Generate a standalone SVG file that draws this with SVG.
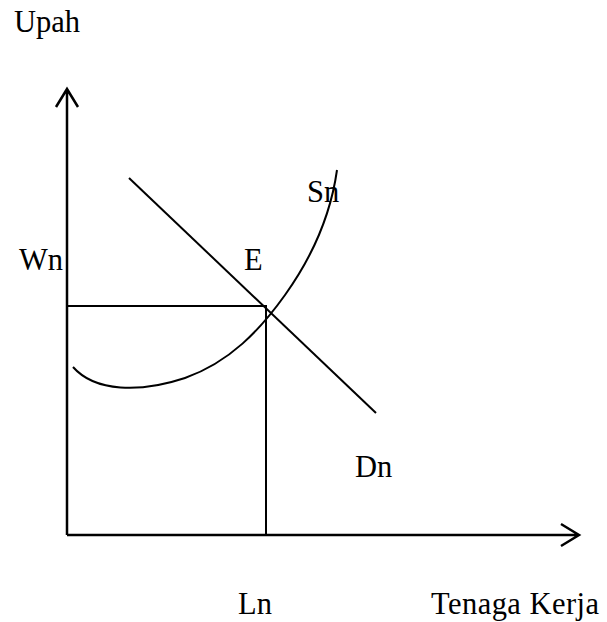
<svg xmlns="http://www.w3.org/2000/svg" width="607" height="622" viewBox="0 0 607 622">
<style>
.ln{fill:none;stroke:#000;stroke-width:2}
.ax{fill:none;stroke:#000;stroke-width:2.5}
text{font-family:"Liberation Serif","Times New Roman",serif;font-size:30.5px;fill:#000}
</style>
<rect width="607" height="622" fill="#fff"/>
<g id="connectors">
<path class="ax" d="M67,535 V89 M56,107 L67,89 L78,107"/>
<path class="ax" d="M67,535 H579 M561,524 L579,535 L561,546"/>
<path class="ln" d="M67,306 H266 V535"/>
<path class="ln" d="M129,178 L376,413"/>
<path class="ln" d="M73,367 C95,392 140,393 185,378 C230,362 260,330 285,295 C310,260 330,220 337,170"/>
</g>
<g id="labels">
<text x="14" y="32">Upah</text>
<text x="19" y="270">Wn</text>
<text x="244" y="270">E</text>
<text x="307" y="202">Sn</text>
<text x="355" y="477">Dn</text>
<text x="238" y="614">Ln</text>
<text x="431" y="614" textLength="168" lengthAdjust="spacing">Tenaga Kerja</text>
</g>
</svg>
